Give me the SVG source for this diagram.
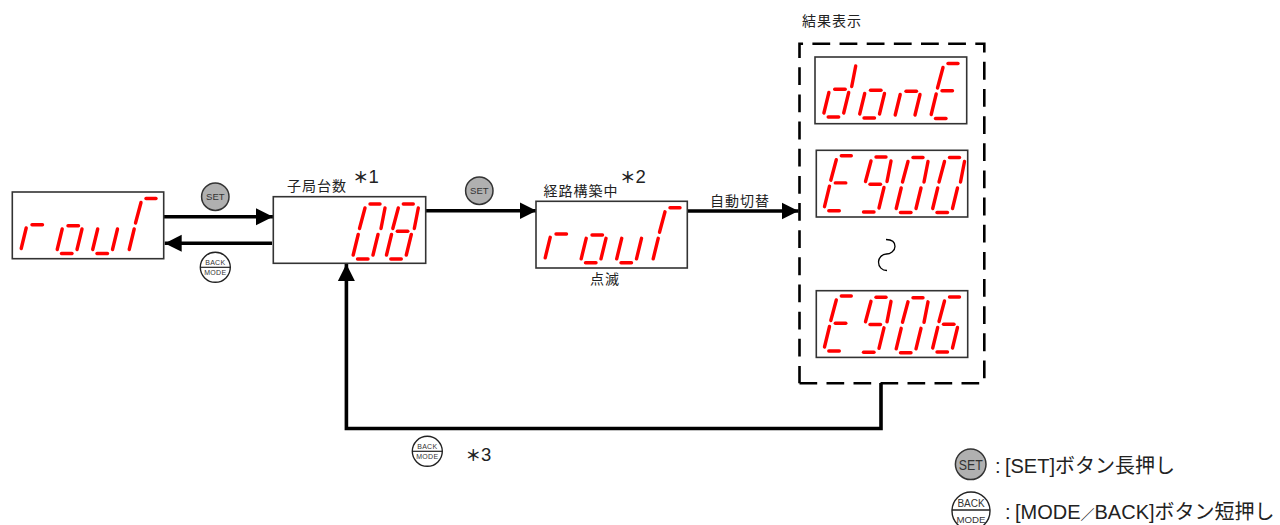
<svg xmlns="http://www.w3.org/2000/svg" width="1280" height="525" viewBox="0 0 1280 525">
<style>
.box{fill:#fff;stroke:#333;stroke-width:1.6}
.seg{fill:none;stroke:#ff0000;stroke-width:3.4;stroke-linecap:round}
.wire{fill:none;stroke:#000;stroke-width:3.6}
.lbl{font-family:"Noto Sans CJK JP","Liberation Sans",sans-serif;font-size:14px;letter-spacing:1px;fill:#222}
.note{font-family:"Liberation Sans","Noto Sans CJK JP",sans-serif;font-size:20px;fill:#222}
.num{font-family:"Liberation Sans",sans-serif;font-size:18.5px;font-weight:400}
.star{font-family:"Noto Sans CJK JP",sans-serif;font-size:15.5px;font-weight:700}
.mark{fill:#222}
.set{fill:#b0b0b0;stroke:#333;stroke-width:1.5}
.back{fill:#fff;stroke:#222;stroke-width:1.4}
.btxt{font-family:"Liberation Sans",Arial,sans-serif;text-anchor:middle;fill:#333}
</style>
<defs>
<marker id="head" markerUnits="userSpaceOnUse" markerWidth="17" markerHeight="18" refX="17" refY="9" orient="auto"><path d="M0,0.5 L17,9 L0,17.5Z" fill="#000"/></marker>
<line id="a" class="seg" x1="18" y1="-52" x2="28" y2="-52"/>
<line id="f" class="seg" x1="13" y1="-48" x2="7.5" y2="-27.5"/>
<line id="b" class="seg" x1="33" y1="-48" x2="29" y2="-27.5"/>
<line id="g" class="seg" x1="12" y1="-24.8" x2="22.5" y2="-24.8"/>
<line id="e" class="seg" x1="6.2" y1="-21.5" x2="1.2" y2="-1"/>
<line id="c" class="seg" x1="26" y1="-21.5" x2="21" y2="-1"/>
<line id="d" class="seg" x1="5.5" y1="3" x2="16" y2="3"/>
<g id="G-r"><use href="#e"/><use href="#g"/></g>
<g id="G-o"><use href="#e"/><use href="#g"/><use href="#c"/><use href="#d"/></g>
<g id="G-u"><use href="#e"/><use href="#c"/><use href="#d"/></g>
<g id="G-T"><use href="#e"/><use href="#f"/><use href="#a"/></g>
<g id="G-0"><use href="#a"/><use href="#f"/><use href="#b"/><use href="#e"/><use href="#c"/><use href="#d"/></g>
<g id="G-8"><use href="#a"/><use href="#f"/><use href="#b"/><use href="#g"/><use href="#e"/><use href="#c"/><use href="#d"/></g>
<g id="G-9"><use href="#a"/><use href="#f"/><use href="#b"/><use href="#g"/><use href="#c"/><use href="#d"/></g>
<g id="G-E"><use href="#a"/><use href="#f"/><use href="#g"/><use href="#e"/><use href="#d"/></g>
<g id="G-6"><use href="#a"/><use href="#f"/><use href="#g"/><use href="#e"/><use href="#c"/><use href="#d"/></g>
<g id="G-d"><use href="#b"/><use href="#g"/><use href="#e"/><use href="#c"/><use href="#d"/></g>
<g id="G-n"><use href="#e"/><use href="#g"/><use href="#c"/></g>
<g id="roul"><use href="#G-r" x="20" y="249.5"/><use href="#G-o" x="56" y="250.5"/><use href="#G-u" x="91.5" y="250.5"/><use href="#G-T" x="128" y="250.5"/></g>
<g id="btn-set"><circle class="set" r="13.7"/><text class="btxt" font-size="9.5" y="3.4">SET</text></g>
<g id="btn-back"><circle class="back" r="15"/><line x1="-15" x2="15" stroke="#222" stroke-width="1.2"/><text class="btxt" font-size="7" letter-spacing="0.3" y="-2.2">BACK</text><text class="btxt" font-size="7" letter-spacing="0.3" y="8">MODE</text></g>
</defs>
<rect width="1280" height="525" fill="#fff"/>

<g id="connectors">
<path class="wire" d="M162.7,216.7 H273" marker-end="url(#head)"/>
<path class="wire" d="M272,243.3 H164.7" marker-end="url(#head)"/>
<path class="wire" d="M426,210.7 H536.5" marker-end="url(#head)"/>
<path class="wire" d="M687.5,211 H798.5" marker-end="url(#head)"/>
<path class="wire" d="M881,383 V428.5 H346.4 V264" marker-end="url(#head)"/>
<text class="lbl" x="710" y="206">自動切替</text>
</g>

<g id="node-roul-start">
<rect class="box" x="12.3" y="192" width="151.4" height="66.7"/>
<use href="#roul"/>
</g>
<g id="node-count">
<rect class="box" x="273.3" y="196.7" width="152.4" height="66.6"/>
<use href="#G-0" x="352" y="256"/><use href="#G-8" x="385.3" y="256"/>
<text class="lbl" x="287" y="191">子局台数</text>
<text class="mark" x="353" y="183"><tspan class="star">＊</tspan><tspan class="num">1</tspan></text>
</g>
<g id="node-roul-blink">
<rect class="box" x="536" y="201.3" width="151.3" height="66.7"/>
<use href="#roul" x="524" y="9.3"/>
<text class="lbl" x="543.5" y="196">経路構築中</text>
<text class="mark" x="620" y="183.3"><tspan class="star">＊</tspan><tspan class="num">2</tspan></text>
<text class="lbl" x="590" y="284">点滅</text>
</g>
<g id="node-result">
<path d="M984.3,378.3 V43.7 H799.5 V383.3" fill="none" stroke="#000" stroke-width="2.6" stroke-dasharray="17.8 9.35"/>
<path d="M799.5,383.3 H984.3" fill="none" stroke="#000" stroke-width="2.6" stroke-dasharray="17.7 9.3"/>
<text class="lbl" x="802" y="25.5">結果表示</text>
<rect class="box" x="815" y="57" width="151.7" height="66.7"/>
<use href="#G-d" x="822.7" y="114"/><use href="#G-o" x="858.5" y="115"/><use href="#G-n" x="894" y="116"/><use href="#G-E" x="930" y="115.5"/>
<rect class="box" x="816.3" y="150.3" width="151.4" height="66.7"/>
<use href="#G-E" x="823.3" y="207.7"/><use href="#G-9" x="858" y="209"/><use href="#G-0" x="895" y="209.5"/><use href="#G-0" x="931.5" y="209.5"/>
<path d="M886,239.5 C893,239.5 895,243 895,246.5 C895,251 890,254 886.5,254 C882,254 878.5,258 878.5,262 C878.5,267 882,270.5 887,270.5" fill="none" stroke="#000" stroke-width="1.3"/>
<rect class="box" x="816.3" y="290.7" width="151.4" height="66.7"/>
<use href="#G-E" x="823.3" y="348"/><use href="#G-9" x="858" y="349.3"/><use href="#G-0" x="895" y="349.8"/><use href="#G-6" x="931.5" y="349"/>
</g>
<g id="btn1"><use href="#btn-set" x="215.3" y="196.7"/></g>
<g id="btn2"><use href="#btn-back" x="215.3" y="267.3"/></g>
<g id="btn3"><use href="#btn-set" x="479.3" y="190.7"/></g>
<g id="btn4"><use href="#btn-back" x="427.3" y="451.3"/></g>
<text class="mark" x="465.5" y="460.7"><tspan class="star">＊</tspan><tspan class="num">3</tspan></text>
<g id="legend">
<circle class="set" cx="970.7" cy="464.3" r="15.3"/>
<text class="btxt" font-size="15" x="970.7" y="469.8" textLength="24" lengthAdjust="spacingAndGlyphs">SET</text>
<text class="note" x="995" y="473">:<tspan dx="4.4">[SET]ボタン長押し</tspan></text>
<circle class="back" cx="971" cy="511" r="19"/>
<line x1="952" x2="990" y1="510" y2="510" stroke="#222" stroke-width="1.3"/>
<text class="btxt" font-size="10" x="971" y="506.7">BACK</text>
<text class="btxt" font-size="9.7" x="971" y="522.5">MODE</text>
<text class="note" x="1005" y="519">:<tspan dx="4.4">[MODE</tspan><tspan font-size="14">／</tspan>BACK]ボタン短押し</text>
</g>
</svg>
